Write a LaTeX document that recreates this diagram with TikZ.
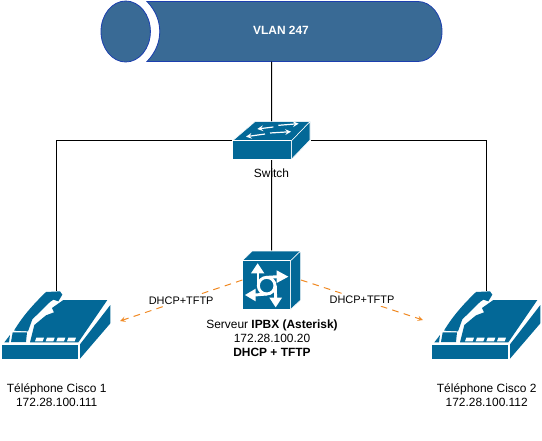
\documentclass[tikz,border=0pt]{standalone}
\usepackage{fontspec}
\setmainfont{Liberation Sans}
\usetikzlibrary{positioning}
\definecolor{ciscoblue}{HTML}{036897}
\definecolor{vlanfill}{HTML}{396A95}
\definecolor{vlanline}{HTML}{1C3FAF}
\definecolor{dhcporange}{HTML}{F08A24}
\newcommand{\txt}{\fontsize{8.95}{10.5}\selectfont}
\newcommand{\smalltxt}{\fontsize{8.2}{10}\selectfont}

\begin{document}
\begin{tikzpicture}[x=0.75pt,y=-0.75pt,
            box/.style = {rectangle, inner sep=0pt, outer sep=0pt},
            phonebox/.style = {box, minimum width=81.75pt, minimum height=51pt},
            switchbox/.style = {box, minimum width=59pt, minimum height=28pt},
            serverbox/.style = {box, minimum width=44pt, minimum height=44pt},
            link/.style = {black, line width=0.75pt},
            dhcp/.style = {dhcporange, line width=0.75pt, dash pattern=on 5pt off 4pt, -stealth},
            tag/.style = {inner sep=0pt, align=center, font=\txt},
            dhcptag/.style = {tag, fill=white, text=black, inner sep=1.5pt, font=\smalltxt},
            part/.style = {fill=ciscoblue, draw=white, line width=0.4pt},
            phone/.pic = {
                \begin{scope}[x=0.25pt,y=-0.25pt]
                \fill[ciscoblue] (6,195) -- (233,195) -- (233,238) -- (6,238) -- cycle;
                \fill[ciscoblue] (240,193) -- (331,75) -- (331,130) -- (240,236) -- cycle;
                \fill[ciscoblue] (190,60) -- (322,60) -- (235,187) -- (90,187) -- (103,135)
                    -- (138,106) -- (162,97) -- (156,84) -- cycle;
                \fill[ciscoblue] (42,152) .. controls (70,105) and (105,68) .. (138,36)
                    -- (180,34) -- (187,44) -- (175,64) -- (160,59) -- (150,66)
                    -- (97,118) -- (84,154) -- cycle;
                \fill[ciscoblue] (38,157) -- (81,157) -- (78,186) -- (33,186) -- cycle;
                \fill[ciscoblue] (13,187) -- (30,165) -- (27,187) -- cycle;
                \foreach \k in {105,137,169,201}
                    \fill[white] (\k+4,173) -- (\k+27,173) -- (\k+23,184) -- (\k,184) -- cycle;
                \end{scope}
            },
            switchicon/.pic = {
                \begin{scope}[x=0.25pt,y=-0.25pt]
                \fill[part] (38,92) -- (105,35) -- (270,35) -- (215,92) -- cycle;
                \fill[part] (38,92) rectangle (215,147);
                \fill[part] (215,92) -- (270,35) -- (270,90) -- (215,147) -- cycle;
                \draw[white,line width=0.9pt,-stealth] (160,51) -- (112,57);
                \draw[white,line width=0.9pt,-stealth] (175,46) -- (236,41);
                \draw[white,line width=0.9pt,-stealth] (135,72) -- (78,80);
                \draw[white,line width=0.9pt,-stealth] (150,69) -- (213,65);
                \end{scope}
            },
            servericon/.pic = {
                \begin{scope}[x=0.25pt,y=-0.25pt]
                \fill[part] (157,47) -- (187,18) -- (332,18) -- (302,47) -- cycle;
                \fill[part] (157,47) rectangle (302,193);
                \fill[part] (302,47) -- (332,18) -- (332,165) -- (302,193) -- cycle;
                % ring and shafts
                \draw[white,line width=2.2pt] (230,122) circle (25);
                \draw[white,line width=2.2pt] (204,80) -- (204,122);
                \draw[white,line width=2.2pt] (265,95) -- (230,97);
                \draw[white,line width=2.2pt] (195,150) -- (230,147);
                \draw[white,line width=2.2pt] (256,122) -- (257,165);
                % arrow heads
                \fill[white] (203,55) -- (223,85) -- (183,85) -- cycle;
                \fill[white] (295,95) -- (260,114) -- (260,76) -- cycle;
                \fill[white] (165,150) -- (197,131) -- (197,169) -- cycle;
                \fill[white] (257,187) -- (238,158) -- (276,158) -- cycle;
                \end{scope}
            }]
        \useasboundingbox (0,0) rectangle (542,440);

        % VLAN
        \fill[vlanfill,draw=vlanline,line width=0.6pt] (147,1.5) -- (418,1.5)
            .. controls (431,1.5) and (442,15) .. (442,31.5)
            .. controls (442,48) and (431,61.5) .. (418,61.5) -- (147,61.5)
            .. controls (164,44) and (164,19) .. cycle;
        \fill[vlanfill,draw=vlanline,line width=0.6pt] (125.7,31.5) ellipse[x radius=24.7, y radius=30.5];
        \node[box, minimum width=255.5pt, minimum height=45pt] (vlan) at (271.5,31.5) {};
        \node[tag,text=white,font=\txt\bfseries] (vlantxt) at (281,30) {VLAN 247};

        % Nodes
        \node[switchbox] (switch) at (271.7,140.5) {};
        \node[serverbox] (server) at (271.7,280) {};
        \node[phonebox] (phoneA) at (56.5,325) {};
        \node[phonebox] (phoneB) at (486.5,325) {};
        \coordinate (dhcpA) at (120,321);
        \coordinate (dhcpB) at (423,320);

        % Links
        \draw[link] (vlan.south) -- (server.north);
        \draw[link] (switch.west) -| (phoneA.north);
        \draw[link] (switch.east) -| (phoneB.north);

        % Icons
        \pic at (220,110) {switchicon};
        \pic at (190,245) {servericon};
        \pic at (0,280) {phone};
        \pic at (430,280) {phone};

        % DHCP
        \draw[dhcp] (server.west) -- node[dhcptag] (tagA) {DHCP+TFTP} (dhcpA);
        \draw[dhcp] (server.east) -- node[dhcptag] (tagB) {DHCP+TFTP} (dhcpB);

        % Labels
        \node[tag] (switchtxt) at (271.5,173) {Switch};
        \node[tag] (servertxt) at (272,338) {Serveur \textbf{IPBX (Asterisk)}\\172.28.100.20\\\textbf{DHCP + TFTP}};
        \node[tag] (phoneAtxt) at (56.7,395) {Téléphone Cisco 1\\172.28.100.111};
        \node[tag] (phoneBtxt) at (486.7,395) {Téléphone Cisco 2\\172.28.100.112};
\end{tikzpicture}
\end{document}
